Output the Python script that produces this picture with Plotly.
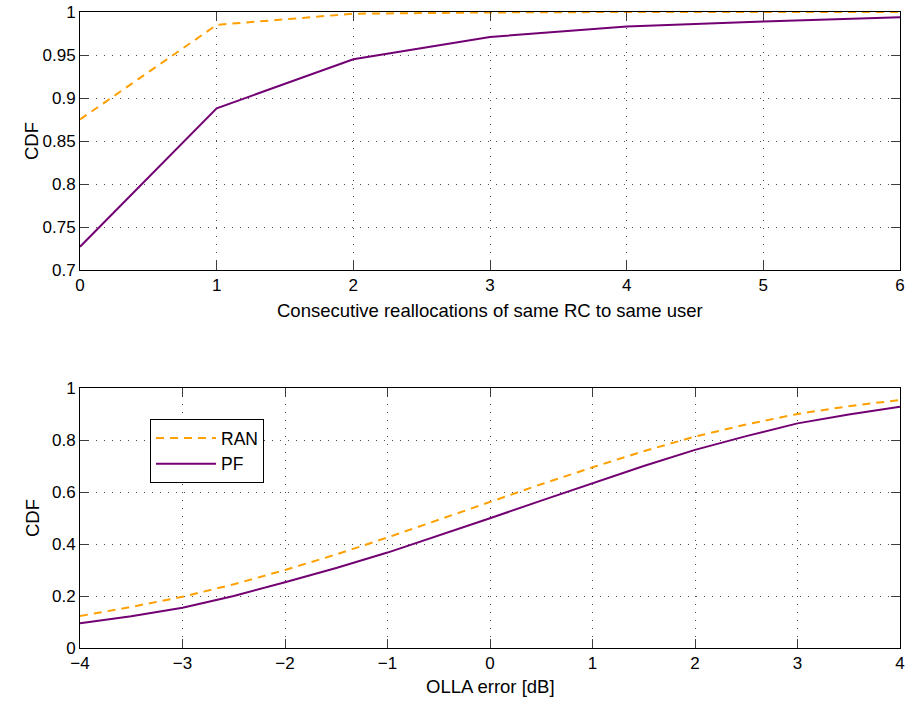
import plotly.graph_objects as go

# Top panel: consecutive reallocations of the same RC to the same user
realloc = [0, 1, 2, 3, 4, 5, 6]
realloc_ran = [0.875, 0.985, 0.998, 0.9995, 1.0, 1.0, 1.0]
realloc_pf = [0.727, 0.888, 0.945, 0.971, 0.983, 0.989, 0.994]

# Bottom panel: OLLA error distribution
olla_db = [-4, -3.5, -3, -2.5, -2, -1.5, -1, -0.5, 0, 0.5, 1, 1.5, 2, 2.5, 3, 3.5, 4]
olla_ran = [0.123, 0.158, 0.197, 0.245, 0.300, 0.360, 0.425, 0.493, 0.563,
            0.630, 0.695, 0.757, 0.813, 0.860, 0.900, 0.930, 0.954]
olla_pf = [0.095, 0.122, 0.155, 0.200, 0.253, 0.308, 0.367, 0.432, 0.499,
           0.567, 0.633, 0.700, 0.762, 0.815, 0.864, 0.898, 0.928]

ORANGE = "rgb(255,160,0)"
PURPLE = "rgb(115,0,115)"
FONT = "Liberation Sans, Arial, sans-serif"
TICK_SIZE = 17
TITLE_SIZE = 18.5

fig = go.Figure()
fig.add_trace(go.Scatter(x=realloc, y=realloc_ran, mode="lines", name="RAN",
                         line=dict(color=ORANGE, width=2, dash="8px,6px"),
                         xaxis="x", yaxis="y", showlegend=False))
fig.add_trace(go.Scatter(x=realloc, y=realloc_pf, mode="lines", name="PF",
                         line=dict(color=PURPLE, width=2),
                         xaxis="x", yaxis="y", showlegend=False))
fig.add_trace(go.Scatter(x=olla_db, y=olla_ran, mode="lines", name="RAN",
                         line=dict(color=ORANGE, width=2, dash="8px,6px"),
                         xaxis="x2", yaxis="y2"))
fig.add_trace(go.Scatter(x=olla_db, y=olla_pf, mode="lines", name="PF",
                         line=dict(color=PURPLE, width=2),
                         xaxis="x2", yaxis="y2"))

W, H = 907, 701
xdom = [80 / W, 900 / W]
top_dom = [1 - 270 / H, 1 - 12 / H]
bot_dom = [1 - 648 / H, 1 - 388 / H]

axis_common = dict(
    showline=True, linecolor="black", linewidth=1, mirror="allticks",
    ticks="inside", ticklen=9, tickcolor="rgb(60,60,60)",
    showgrid=True, gridcolor="rgba(0,0,0,0.7)", griddash="1px,7px", gridwidth=1,
    zeroline=False, automargin=False,
    tickfont=dict(family=FONT, size=TICK_SIZE, color="black"),
)

fig.update_layout(
    width=W, height=H,
    margin=dict(l=0, r=0, t=0, b=0),
    paper_bgcolor="white", plot_bgcolor="white",
    font=dict(family=FONT, size=TICK_SIZE, color="black"),
    xaxis=dict(domain=xdom, anchor="y", range=[0, 6], tickvals=realloc,
               **axis_common),
    yaxis=dict(domain=top_dom, anchor="x", range=[0.7, 1.0],
               tickvals=[0.7, 0.75, 0.8, 0.85, 0.9, 0.95, 1.0],
               ticktext=["0.7", "0.75", "0.8", "0.85", "0.9", "0.95", "1"],
               **axis_common),
    xaxis2=dict(domain=xdom, anchor="y2", range=[-4, 4],
                tickvals=[-4, -3, -2, -1, 0, 1, 2, 3, 4],
                **axis_common),
    yaxis2=dict(domain=bot_dom, anchor="x2", range=[0, 1],
                tickvals=[0, 0.2, 0.4, 0.6, 0.8, 1.0],
                ticktext=["0", "0.2", "0.4", "0.6", "0.8", "1"],
                **axis_common),
    legend=dict(x=150 / W, y=1 - 419 / H, xanchor="left", yanchor="top",
                bgcolor="white", bordercolor="black", borderwidth=1,
                font=dict(family=FONT, size=17.5, color="black"),
                itemwidth=60, tracegroupgap=0),
)

# Axis titles, placed in paper coordinates
title_font = dict(family=FONT, size=TITLE_SIZE, color="black")
xmid = (xdom[0] + xdom[1]) / 2
fig.add_annotation(text="Consecutive reallocations of same RC to same user",
                   xref="paper", yref="paper", x=xmid, y=1 - 311 / H,
                   xanchor="center", yanchor="middle", showarrow=False, font=title_font)
fig.add_annotation(text="OLLA error [dB]",
                   xref="paper", yref="paper", x=xmid, y=1 - 686 / H,
                   xanchor="center", yanchor="middle", showarrow=False, font=title_font)
for dom in (top_dom, bot_dom):
    fig.add_annotation(text="CDF", textangle=-90,
                       xref="paper", yref="paper", x=32 / W, y=(dom[0] + dom[1]) / 2,
                       xanchor="center", yanchor="middle", showarrow=False, font=title_font)

fig.write_html("out.html")
